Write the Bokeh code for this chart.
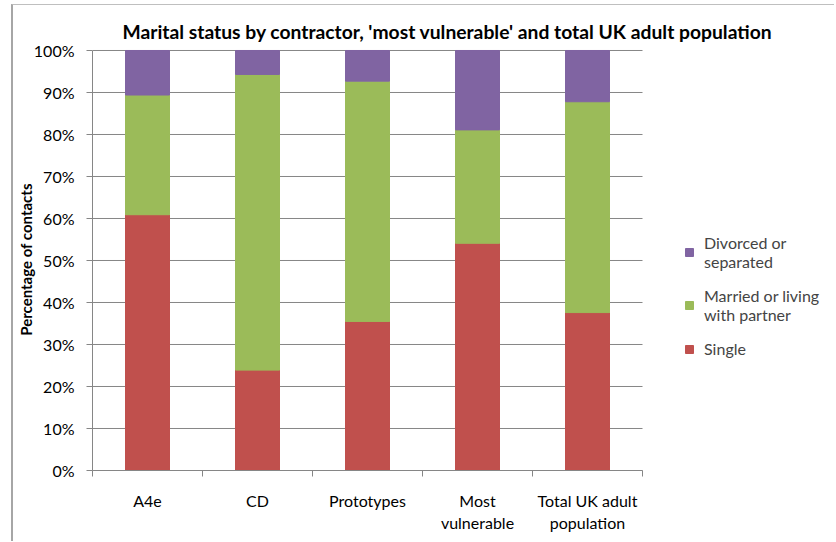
from bokeh.plotting import figure
from bokeh.models import ColumnDataSource, FixedTicker, Legend, LegendItem, Range1d
from bokeh.embed import file_html
from bokeh.resources import INLINE

# Marital status shares (% of contacts) per group
groups = ["A4e", "CD", "Prototypes", "Most\nvulnerable", "Total UK adult\npopulation"]
single = [60.9, 23.9, 35.5, 54.1, 37.6]
married = [28.5, 70.4, 57.2, 27.0, 50.2]
divorced = [10.6, 5.7, 7.3, 18.9, 12.2]
series = ["Single", "Married or living\nwith partner", "Divorced or\nseparated"]
colors = ["#C0504D", "#9BBB59", "#8064A2"]
y_ticks = [0, 10, 20, 30, 40, 50, 60, 70, 80, 90, 100]

FONT = "Lato"
GRID = "#868686"
N = len(groups)

xs = [i + 0.5 for i in range(N)]
source = ColumnDataSource(dict(x=xs, single=single, married=married, divorced=divorced))

# The data frame runs to the right edge so the legend can sit beside the bars;
# axis line and gridlines are bounded to the category span [0, N].
p = figure(width=823, height=537, output_backend="svg", toolbar_location=None,
           x_range=Range1d(0, 6.7636), y_range=Range1d(0, 100.476),
           min_border_left=79, min_border_right=0, min_border_top=43,
           min_border_bottom=72,
           styles={"margin-left": "11px", "margin-top": "4px",
                   "border-left": "2px solid #A6A6A6", "border-top": "1px solid #BFBFBF"})
p.outline_line_color = None
p.background_fill_color = "white"
p.border_fill_color = "white"

# horizontal gridlines across the category span
p.segment(x0=0, x1=N, y0=y_ticks, y1=y_ticks, line_color=GRID, line_width=1)

renderers = p.vbar_stack(["single", "married", "divorced"], x="x", width=0.4,
                         source=source, color=colors, line_color=colors)

# title
p.title.text = "Marital status by contractor, 'most vulnerable' and total  UK adult population"
p.title.align = "left"
p.title.offset = 30
p.title.text_font = FONT
p.title.text_font_style = "bold"
p.title.text_font_size = "19.3px"
p.title.text_color = "black"
p.title.standoff = 12

# y axis
p.yaxis.ticker = FixedTicker(ticks=y_ticks)
p.yaxis.major_label_overrides = {t: f"{t}%" for t in y_ticks}
p.yaxis.axis_label = "Percentage of contacts"
p.yaxis.axis_label_text_font = FONT
p.yaxis.axis_label_text_font_style = "bold"
p.yaxis.axis_label_text_font_size = "15px"
p.yaxis.axis_label_text_color = "black"
p.yaxis.axis_label_standoff = -4
p.yaxis.major_label_text_font = FONT
p.yaxis.major_label_text_font_size = "16px"
p.yaxis.major_label_text_color = "black"
p.yaxis.major_label_standoff = 12
p.yaxis.major_tick_out = 6
p.yaxis.major_tick_in = 0
p.yaxis.minor_tick_out = 0
p.yaxis.axis_line_color = GRID
p.yaxis.major_tick_line_color = GRID
p.yaxis.bounds = (0, 100)

# x axis: labels at bar centres, tick marks at category boundaries
p.xaxis.ticker = FixedTicker(ticks=xs, minor_ticks=list(range(N + 1)))
p.xaxis.major_label_overrides = {x: g for x, g in zip(xs, groups)}
p.xaxis.major_label_text_font = FONT
p.xaxis.major_label_text_font_size = "16px"
p.xaxis.major_label_text_color = "black"
p.xaxis.major_label_standoff = 14
p.xaxis.major_tick_out = 0
p.xaxis.major_tick_in = 0
p.xaxis.minor_tick_out = 6
p.xaxis.minor_tick_in = 0
p.xaxis.minor_tick_line_color = GRID
p.xaxis.axis_line_color = GRID
p.xaxis.bounds = (0, N)

p.xgrid.grid_line_color = None
p.ygrid.grid_line_color = None

legend = Legend(items=[LegendItem(label=series[2], renderers=[renderers[2]]),
                       LegendItem(label=series[1], renderers=[renderers[1]]),
                       LegendItem(label=series[0], renderers=[renderers[0]])],
                location=(592, 112), padding=0, margin=0, spacing=15,
                glyph_width=10, glyph_height=10, label_standoff=10,
                label_text_font=FONT, label_text_font_size="16px",
                border_line_color=None, background_fill_color=None)
p.add_layout(legend, "center")

open("out.html", "w").write(file_html(p, INLINE))
